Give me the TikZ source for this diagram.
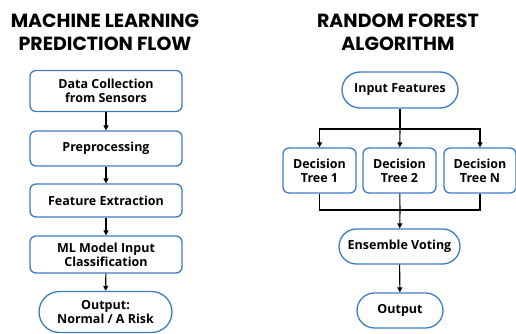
\documentclass[tikz,border=0pt]{standalone}
\usepackage{fontspec}
\setmainfont{Open Sans}
\newfontfamily\titlefont{Poppins}
\usetikzlibrary{arrows.meta,shapes.misc}
\definecolor{bordblue}{HTML}{3C7CC4}
\tikzset{
  box/.style={draw=bordblue, line width=1.3pt, rounded corners=6pt, fill=white, align=center, font=\bfseries\fontsize{12.5}{14}\selectfont, inner sep=0pt},
  pill/.style={draw=bordblue, line width=1.3pt, rounded rectangle, fill=white, align=center, font=\bfseries\fontsize{12.5}{14}\selectfont, inner sep=0pt},
  ttl/.style={align=center, font=\titlefont\bfseries\fontsize{19}{23}\selectfont},
  arr/.style={-{Triangle[length=5pt,width=5pt]}, line width=1.1pt, black},
  ln/.style={line width=1.1pt, black}
}
\begin{document}
\begin{tikzpicture}[x=1pt,y=-1pt]
\useasboundingbox (0,0) rectangle (516,334);
% left
\node[ttl] (t1) at (105,32) {MACHINE LEARNING\\PREDICTION FLOW};
\node[box, minimum width=152pt, minimum height=41pt] (b1) at (106,91) {Data Collection\\from Sensors};
\node[box, minimum width=152pt, minimum height=35pt] (b2) at (106,148.5) {Preprocessing};
\node[box, minimum width=152pt, minimum height=33pt] (b3) at (106,200.5) {Feature Extraction};
\node[box, minimum width=152pt, minimum height=37pt] (b4) at (106,254.5) {ML Model Input\\Classification};
\node[pill, minimum width=133pt, minimum height=41pt] (b5) at (105.5,312) {Output:\\Normal / A Risk};
\draw[arr] (b1) -- (b2);
\draw[arr] (b2) -- (b3);
\draw[arr] (b3) -- (b4);
\draw[arr] (b4) -- (b5);
% right
\node[ttl] (t2) at (398,32) {RANDOM FOREST\\ALGORITHM};
\node[pill, minimum width=116pt, minimum height=36pt] (in) at (400,90) {Input Features};
\node[box, minimum width=73pt, minimum height=45pt] (d1) at (319.5,170.5) {Decision\\Tree 1};
\node[box, minimum width=73pt, minimum height=45pt] (d2) at (399.5,170.5) {Decision\\Tree 2};
\node[box, minimum width=72pt, minimum height=45pt] (d3) at (480,170.5) {Decision\\Tree N};
\node[pill, minimum width=121pt, minimum height=35pt] (ev) at (399.5,246.5) {Ensemble Voting};
\node[pill, minimum width=86pt, minimum height=35pt] (out) at (400,310.5) {Output};
\coordinate (sp) at (400,129);
\coordinate (jn) at (400,210);
\draw[ln] (in) -- (sp);
\draw[arr] (sp) -- (d2);
\draw[arr] (sp) -| (d1);
\draw[arr] (sp) -| (d3);
\draw[ln] (d1) |- (jn);
\draw[ln] (d3) |- (jn);
\draw[ln] (d2) -- (jn);
\draw[arr] (jn) -- (ev);
\draw[arr] (ev) -- (out);
\end{tikzpicture}
\end{document}
